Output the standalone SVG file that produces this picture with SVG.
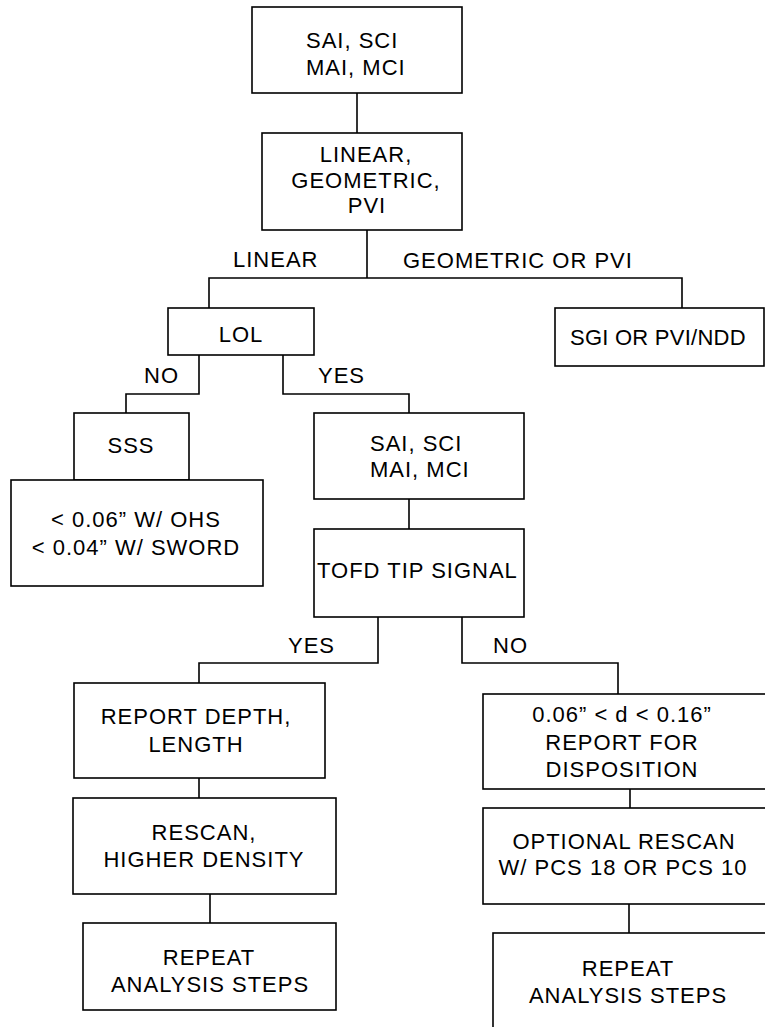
<svg xmlns="http://www.w3.org/2000/svg" width="765" height="1027" viewBox="0 0 765 1027">
<style>
.b{fill:#fff;stroke:#000;stroke-width:1.6}
.c{fill:none;stroke:#000;stroke-width:1.6}
text{font-family:"Liberation Sans",Arial,sans-serif;font-size:22px;letter-spacing:1px;fill:#000}
.m{text-anchor:middle}
</style>
<rect width="765" height="1027" fill="#fff"/>
<g id="connectors">
<path class="c" d="M357,93V133"/>
<path class="c" d="M367,230V278M209,308V278H682V308"/>
<path class="c" d="M199,355V394H126V413"/>
<path class="c" d="M283,355V394H409V413"/>
<path class="c" d="M409,499V529"/>
<path class="c" d="M378,617V663H199V683"/>
<path class="c" d="M462,617V663H618V694"/>
<path class="c" d="M199,778V798"/>
<path class="c" d="M210,894V923"/>
<path class="c" d="M630,789V808"/>
<path class="c" d="M629,904V933"/>
<text x="233" y="267">LINEAR</text>
<text x="403" y="268">GEOMETRIC OR PVI</text>
<text x="144" y="383">NO</text>
<text x="318" y="383">YES</text>
<text x="288" y="653">YES</text>
<text x="493" y="653">NO</text>
</g>
<g id="n1"><rect class="b" x="252" y="7" width="210" height="86"/>
<text x="306" y="48">SAI, SCI</text><text x="306" y="75">MAI, MCI</text></g>
<g id="n2"><rect class="b" x="262" y="133" width="200" height="97"/>
<text class="m" x="366" y="162">LINEAR,</text><text class="m" x="366" y="188">GEOMETRIC,</text><text class="m" x="367" y="213">PVI</text></g>
<g id="n3"><rect class="b" x="168" y="308" width="146" height="47"/>
<text class="m" x="241" y="342">LOL</text></g>
<g id="n4"><rect class="b" x="555" y="308" width="209" height="58"/>
<text x="570" y="345" style="letter-spacing:0.25px">SGI OR PVI/NDD</text></g>
<g id="n5"><rect class="b" x="74" y="413" width="115" height="67"/>
<text class="m" x="131" y="453">SSS</text></g>
<g id="n6"><rect class="b" x="11" y="480" width="252" height="106"/>
<text class="m" x="136" y="527">&lt; 0.06” W/ OHS</text><text class="m" x="136" y="555">&lt; 0.04” W/ SWORD</text></g>
<g id="n7"><rect class="b" x="314" y="413" width="210" height="86"/>
<text x="370" y="451">SAI, SCI</text><text x="370" y="477">MAI, MCI</text></g>
<g id="n8"><rect class="b" x="314" y="529" width="210" height="88"/>
<text x="317" y="578">TOFD TIP SIGNAL</text></g>
<g id="n9"><rect class="b" x="74" y="683" width="251" height="95"/>
<text class="m" x="196" y="724">REPORT DEPTH,</text><text class="m" x="196" y="752">LENGTH</text></g>
<g id="n10"><rect class="b" x="73" y="798" width="263" height="96"/>
<text class="m" x="204" y="840">RESCAN,</text><text class="m" x="204" y="867">HIGHER DENSITY</text></g>
<g id="n11"><rect class="b" x="83" y="923" width="253" height="87"/>
<text class="m" x="209" y="965">REPEAT</text><text class="m" x="210" y="992">ANALYSIS STEPS</text></g>
<g id="n12"><rect class="b" x="483" y="694" width="290" height="95"/>
<text class="m" x="622" y="722">0.06” &lt; d &lt; 0.16”</text><text class="m" x="622" y="750">REPORT FOR</text><text class="m" x="622" y="777">DISPOSITION</text></g>
<g id="n13"><rect class="b" x="483" y="808" width="290" height="96"/>
<text class="m" x="624" y="849">OPTIONAL RESCAN</text><text class="m" x="623" y="875">W/ PCS 18 OR PCS 10</text></g>
<g id="n14"><rect class="b" x="493" y="933" width="280" height="110"/>
<text class="m" x="628" y="976">REPEAT</text><text class="m" x="628" y="1003">ANALYSIS STEPS</text></g>
</svg>
